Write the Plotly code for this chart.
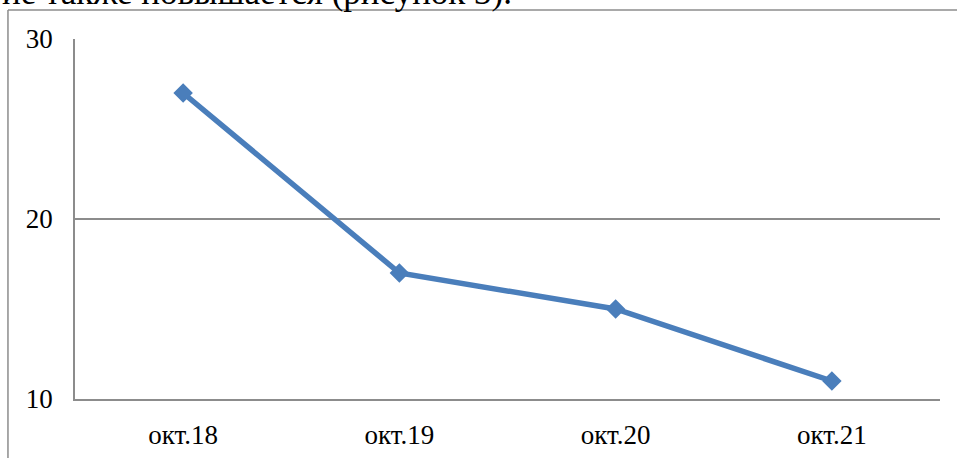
import plotly.graph_objects as go

categories = ["окт.18", "окт.19", "окт.20", "окт.21"]
values = [27, 17, 15, 11]
y_ticks = [10, 20, 30]
top_text = "ие также повышается (рисунок 3)."

FONT = "Liberation Serif, Times New Roman, serif"
GRID = "#8C8C8C"

fig = go.Figure()
fig.add_trace(go.Scatter(
    x=categories, y=values, mode="lines+markers",
    line=dict(color="#4A7EBB", width=5.5),
    marker=dict(symbol="diamond", size=15, color="#4A7EBB"),
    showlegend=False, hoverinfo="skip",
))

fig.update_layout(
    width=957, height=458,
    margin=dict(l=75, r=17, t=39, b=59, autoexpand=False),
    paper_bgcolor="white", plot_bgcolor="white",
    font=dict(family=FONT, size=27, color="black"),
    xaxis=dict(
        type="category", range=[-0.5, 3.5], showgrid=False,
        showline=True, linecolor=GRID, linewidth=1.5,
        ticks="", ticklabelstandoff=11, automargin=False,
        tickfont=dict(family=FONT, size=27),
        fixedrange=True, zeroline=False,
    ),
    yaxis=dict(
        range=[10, 30], tickvals=y_ticks, showgrid=True,
        gridcolor=GRID, gridwidth=1.5,
        showline=True, linecolor=GRID, linewidth=1.5,
        ticks="", ticklabelstandoff=15, zeroline=False, automargin=False,
        tickfont=dict(family=FONT, size=27), fixedrange=True,
    ),
    shapes=[
        dict(type="line", xref="paper", yref="paper",
             x0=-0.0775, x1=1.1, y0=1.0806, y1=1.0806,
             line=dict(color=GRID, width=1.5)),
        dict(type="line", xref="paper", yref="paper",
             x0=-0.0775, x1=-0.0775, y0=1.0806, y1=-0.3,
             line=dict(color=GRID, width=1.5)),
    ],
    annotations=[
        dict(text=top_text, xref="paper", yref="paper",
             x=-0.0867, y=1.1303, xanchor="left", yanchor="middle",
             showarrow=False, font=dict(family=FONT, size=35, color="black")),
    ],
)

fig.write_html(
    "out.html",
    config={"displayModeBar": False},
    post_script="document.body.style.margin='0';document.body.style.overflow='hidden';",
)
